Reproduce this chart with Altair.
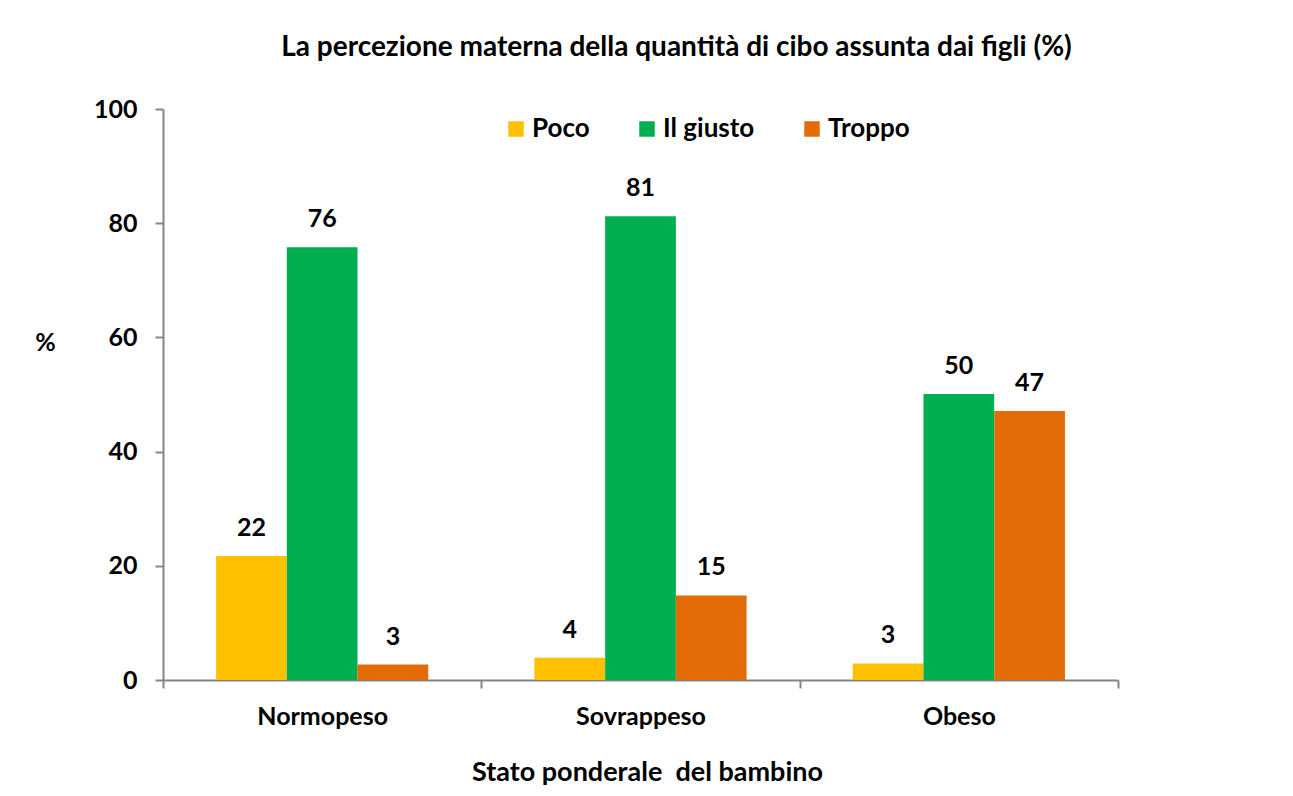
import altair as alt
import pandas as pd

categories = ["Normopeso", "Sovrappeso", "Obeso"]
series = ["Poco", "Il giusto", "Troppo"]
poco = [21.7, 3.9, 2.9]
giusto = [75.8, 81.2, 50.1]
troppo = [2.7, 14.8, 47.1]
labels_poco = ["22", "4", "3"]
labels_giusto = ["76", "81", "50"]
labels_troppo = ["3", "15", "47"]
colors = ["#FFC000", "#00B050", "#E36C09"]

rows = []
for i, c in enumerate(categories):
    for s, vals, labs in zip(series, [poco, giusto, troppo], [labels_poco, labels_giusto, labels_troppo]):
        rows.append({"cat": c, "serie": s, "val": vals[i], "lab": labs[i]})
df = pd.DataFrame(rows)

FONT = "Lato"
AX = "#868686"
FS = 25

x = alt.X("cat:N", sort=categories,
          scale=alt.Scale(paddingInner=0, paddingOuter=0),
          axis=alt.Axis(title="Stato ponderale \u00a0del bambino", labelAngle=0, tickBand="extent",
                        tickSize=8, labelPadding=16, titleX=484, titleY=92, titleFontSize=27,
                        titleBaseline="middle", titleAlign="center"))
xo = alt.XOffset("serie:N", sort=series, scale=alt.Scale(paddingInner=0, paddingOuter=0.75))
y = alt.Y("val:Q", scale=alt.Scale(domain=[0, 100]),
          axis=alt.Axis(title="%", values=[0, 20, 40, 60, 80, 100], grid=False, tickSize=8,
                        labelPadding=18, titleAngle=0, titleX=-118, titleY=233,
                        titleAlign="center", titleBaseline="middle"))
color = alt.Color("serie:N", sort=series, scale=alt.Scale(domain=series, range=colors),
                  legend=alt.Legend(title=None, orient="none", direction="horizontal",
                                    legendX=340, legendY=7, symbolType="square", symbolSize=240,
                                    symbolStrokeWidth=0, columnPadding=44, labelOffset=3,
                                    labelFontSize=26, labelFont=FONT, labelFontWeight="bold",
                                    labelColor="#000000"))

bars = alt.Chart(df).mark_bar().encode(x=x, xOffset=xo, y=y, color=color)
text = alt.Chart(df).mark_text(baseline="bottom", dy=-15, fontSize=FS, font=FONT,
                               fontWeight="bold", color="#000000").encode(
    x=alt.X("cat:N", sort=categories), xOffset=alt.XOffset("serie:N", sort=series),
    y="val:Q", text="lab:N")

chart = (bars + text).properties(
    width=955, height=571,
    title=alt.TitleParams("La percezione materna della quantità di cibo assunta dai figli (%)",
                          fontSize=28, font=FONT, fontWeight="bold", color="#000000",
                          dx=36, offset=35),
    autosize=alt.AutoSizeParams(type="none"),
    padding={"left": 155, "top": 101, "right": 160, "bottom": 106},
).configure(background="white").configure_view(stroke=None).configure_axis(
    domainColor=AX, tickColor=AX, domainWidth=2, tickWidth=2,
    labelFont=FONT, labelFontSize=FS, labelFontWeight="bold", labelColor="#000000",
    titleFont=FONT, titleFontSize=FS, titleFontWeight="bold", titleColor="#000000",
)

chart.save("out.html", embed_options={"renderer": "svg", "actions": False})
